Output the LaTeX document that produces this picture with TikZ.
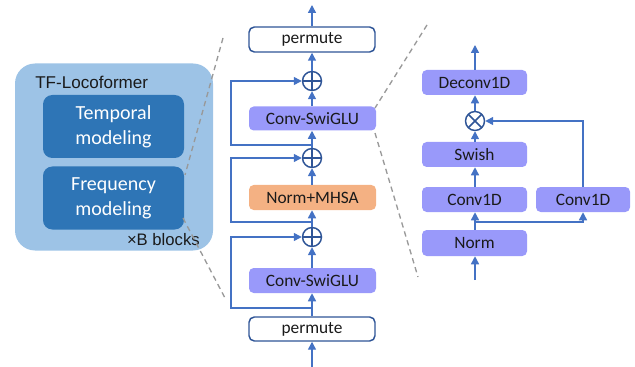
\documentclass[tikz,border=0pt]{standalone}
\usepackage{fontspec}
\setmainfont{Carlito}
\newfontfamily\arialf{Liberation Sans}
\usetikzlibrary{arrows.meta}
\definecolor{outerblue}{HTML}{9DC3E6}
\definecolor{innerblue}{HTML}{2E75B6}
\definecolor{lav}{HTML}{9999FA}
\definecolor{orng}{HTML}{F4B183}
\definecolor{arrblue}{HTML}{4472C4}
\definecolor{dkblue}{HTML}{2F5597}
\definecolor{txt}{HTML}{1A1A1A}
\tikzset{
  blk/.style={rounded corners=3.5, minimum height=25*0.75, inner sep=0, text=txt, font=\fontsize{13}{15}\selectfont},
  lavbox/.style={blk, fill=lav},
  orbox/.style={blk, fill=orng},
  pbox/.style={blk, draw=dkblue, line width=1.1pt, fill=white, rounded corners=4},
  inbox/.style={rounded corners=7, fill=innerblue, text=white, minimum width=141*0.75, minimum height=63*0.75, inner sep=0, align=center, font=\fontsize{15}{19}\selectfont},
  op/.style={circle, draw=dkblue, line width=1.1pt, fill=white, minimum size=19*0.75, inner sep=0},
  opplus/.style={op, path picture={\draw[dkblue, line width=1.1pt] (path picture bounding box.north) -- (path picture bounding box.south) (path picture bounding box.west) -- (path picture bounding box.east);}},
  optimes/.style={op, path picture={\draw[dkblue, line width=1.1pt] (path picture bounding box.north west) -- (path picture bounding box.south east) (path picture bounding box.south west) -- (path picture bounding box.north east);}},
  arr/.style={draw=arrblue, line width=1.1pt, -{Triangle[length=6, width=6]}},
  dsh/.style={draw=gray!80, line width=1pt, dash pattern=on 4pt off 3pt}
}
\begin{document}
\begin{tikzpicture}[x=0.75pt, y=-0.75pt]
\useasboundingbox (0,0) rectangle (635,367);
% left panel
\node[rounded corners=15, fill=outerblue, minimum width=198*0.75, minimum height=187*0.75, inner sep=0] (outer) at (114,157) {};
\node[anchor=west, font=\arialf\fontsize{12.8}{15}\selectfont, text=txt, inner sep=0] (tfl) at (35,82) {TF-Locoformer};
\node[inbox] (temp) at (113.5,126.5) {Temporal\\modeling};
\node[inbox] (freq) at (113.5,198) {Frequency\\modeling};
\node[anchor=east, font=\arialf\fontsize{12.5}{15}\selectfont, text=txt, inner sep=0] (blocks) at (200,240) {\texttimes B blocks};
% dashed
\coordinate (d1a) at (223,38); \coordinate (d1b) at (185,175);
\coordinate (d2a) at (183,218); \coordinate (d2b) at (225,298);
\coordinate (d3a) at (427,25); \coordinate (d3b) at (375,108);
\coordinate (d4a) at (375,133); \coordinate (d4b) at (418,277);
\draw[dsh] (d1a) -- (d1b);
\draw[dsh] (d2a) -- (d2b);
\draw[dsh] (d3a) -- (d3b);
\draw[dsh] (d4a) -- (d4b);
% middle column
\node[pbox, minimum width=126*0.75] (perm1) at (312,39.5) {permute};
\node[opplus] (plus1) at (312,81) {};
\node[lavbox, minimum width=127*0.75, minimum height=24*0.75] (conv1) at (312.5,118.5) {Conv-SwiGLU};
\node[opplus] (plus2) at (312,158) {};
\node[orbox, minimum width=127*0.75] (mhsa) at (312.5,197.5) {Norm+MHSA};
\node[opplus] (plus3) at (312,237) {};
\node[lavbox, minimum width=127*0.75] (conv2) at (312.5,280.5) {Conv-SwiGLU};
\node[pbox, minimum width=126*0.75, minimum height=24*0.75] (perm2) at (312,329) {permute};
\coordinate (top1) at (312,5);
\coordinate (bot1) at (312,367);
\draw[arr] (perm1.north) -- (top1);
\draw[arr] (plus1.north) -- (perm1.south);
\draw[arr] (conv1.north -| plus1) -- (plus1.south);
\draw[arr] (plus2.north) -- (conv1.south -| plus2);
\draw[arr] (mhsa.north -| plus2) -- (plus2.south);
\draw[arr] (plus3.north) -- (mhsa.south -| plus3);
\draw[arr] (conv2.north -| plus3) -- (plus3.south);
\draw[arr] (perm2.north) -- (conv2.south -| perm2);
\draw[arr] (bot1) -- (perm2.south);
\coordinate (s1) at (312,145); \coordinate (s1l) at (231,145);
\coordinate (s2) at (312,222); \coordinate (s2l) at (231,222);
\coordinate (s3) at (312,308); \coordinate (s3l) at (231,308);
\draw[arr] (s1) -- (s1l) |- (plus1.west);
\draw[arr] (s2) -- (s2l) |- (plus2.west);
\draw[arr] (s3) -- (s3l) |- (plus3.west);
% right column
\node[lavbox, minimum width=105*0.75] (deconv) at (474.5,82.5) {Deconv1D};
\node[optimes] (times) at (475,121) {};
\node[lavbox, minimum width=105*0.75] (swish) at (474.5,154.5) {Swish};
\node[lavbox, minimum width=105*0.75] (c1l) at (474.5,199.5) {Conv1D};
\node[lavbox, minimum width=94*0.75] (c1r) at (583,199.5) {Conv1D};
\node[lavbox, minimum width=105*0.75, minimum height=26*0.75] (norm) at (474.5,243) {Norm};
\coordinate (top2) at (475,45);
\coordinate (bot2) at (475,280);
\coordinate (br) at (475,222);
\draw[arr] (deconv.north -| times) -- (top2);
\draw[arr] (times.north) -- (deconv.south -| times);
\draw[arr] (swish.north -| times) -- (times.south);
\draw[arr] (c1l.north -| times) -- (swish.south -| times);
\draw[arr] (norm.north -| br) -- (c1l.south -| br);
\draw[arr] (br) -| (c1r.south);
\draw[arr] (c1r.north) |- (times.east);
\draw[arr] (bot2) -- (norm.south -| bot2);
\end{tikzpicture}
\end{document}
